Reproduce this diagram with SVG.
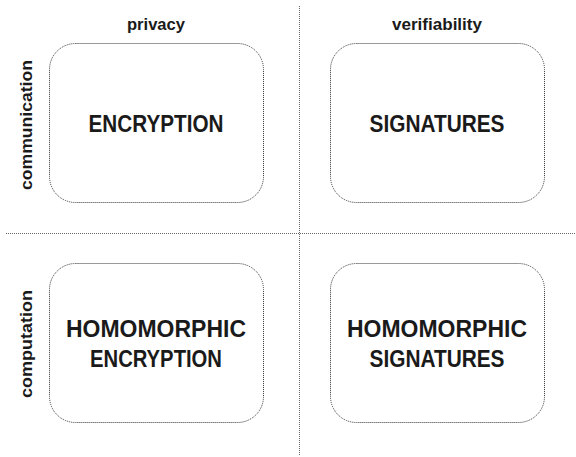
<svg xmlns="http://www.w3.org/2000/svg" width="576" height="457" viewBox="0 0 576 457">
<style>
.box{fill:#fff;stroke:#333;stroke-width:1;stroke-dasharray:1 1}
.div{stroke:#666;stroke-width:1;stroke-dasharray:1 1;fill:none}
.hdr{font-family:"Liberation Sans",Arial,sans-serif;font-weight:bold;font-size:16px;fill:#1a1a1a;text-anchor:middle}
.lbl{font-family:"Liberation Sans",Arial,sans-serif;font-weight:bold;font-size:24px;fill:#1a1a1a;text-anchor:middle}
</style>
<rect width="576" height="457" fill="#fff"/>
<g id="connectors">
<line class="div" x1="299.5" y1="6" x2="299.5" y2="456"/>
<line class="div" x1="6" y1="233.5" x2="576" y2="233.5"/>
</g>
<g id="headers">
<text class="hdr" x="156" y="30" textLength="58" lengthAdjust="spacingAndGlyphs">privacy</text>
<text class="hdr" x="437" y="30" textLength="90" lengthAdjust="spacingAndGlyphs">verifiability</text>
<text class="hdr" transform="translate(32,125) rotate(-90)" textLength="130" lengthAdjust="spacingAndGlyphs">communication</text>
<text class="hdr" transform="translate(32,344) rotate(-90)" textLength="108" lengthAdjust="spacingAndGlyphs">computation</text>
</g>
<g id="encryption">
<rect class="box" x="49.5" y="43.5" width="214" height="159" rx="26"/>
<text class="lbl" x="156" y="132" textLength="135" lengthAdjust="spacingAndGlyphs">ENCRYPTION</text>
</g>
<g id="signatures">
<rect class="box" x="330.5" y="43.5" width="214" height="159" rx="26"/>
<text class="lbl" x="437" y="132" textLength="135" lengthAdjust="spacingAndGlyphs">SIGNATURES</text>
</g>
<g id="homomorphic-encryption">
<rect class="box" x="49.5" y="263.5" width="214" height="159" rx="26"/>
<text class="lbl" x="156" y="337" textLength="180" lengthAdjust="spacingAndGlyphs">HOMOMORPHIC</text>
<text class="lbl" x="156" y="367" textLength="132" lengthAdjust="spacingAndGlyphs">ENCRYPTION</text>
</g>
<g id="homomorphic-signatures">
<rect class="box" x="330.5" y="263.5" width="214" height="159" rx="26"/>
<text class="lbl" x="437" y="337" textLength="180" lengthAdjust="spacingAndGlyphs">HOMOMORPHIC</text>
<text class="lbl" x="437" y="367" textLength="135" lengthAdjust="spacingAndGlyphs">SIGNATURES</text>
</g>
</svg>
